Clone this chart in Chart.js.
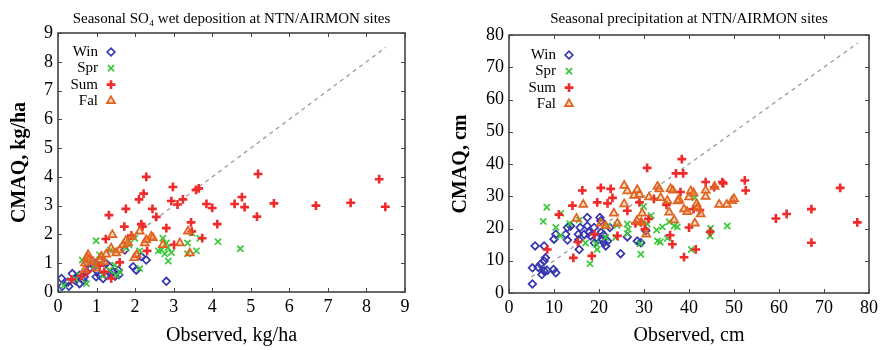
<!DOCTYPE html>
<html>
<head>
<meta charset="utf-8">
<script src="https://cdn.jsdelivr.net/npm/chart.js@4.4.1/dist/chart.umd.min.js"></script>
<style>
  html, body { margin: 0; padding: 0; background: #fff; }
  .wrap { position: absolute; top: 0; width: 441px; height: 350px; }
</style>
</head>
<body>
<div class="wrap" style="left:0"><canvas id="chartSO4"></canvas></div>
<div class="wrap" style="left:441px"><canvas id="chartPrecip"></canvas></div>
<script>
// seasons (legend order)
var seasons = ['Win', 'Spr', 'Sum', 'Fal'];

// SO4 wet deposition, kg/ha : [observed, CMAQ]
var so4Win = [[0.09,0.47],[0.11,0.20],[0.28,0.20],[0.26,0.35],[0.37,0.64],[0.48,0.47],[0.56,0.58],[0.65,0.41],[0.56,0.29],[0.74,0.70],[0.82,0.82],[0.91,0.94],[0.99,0.53],[1.08,0.58],[1.17,0.47],[1.25,0.58],[1.25,0.99],[1.34,0.88],[1.43,0.70],[1.56,0.76],[1.58,0.60],[1.73,1.46],[1.95,0.88],[2.03,0.76],[2.16,1.23],[2.29,1.11],[2.81,0.37],[0.78,0.99],[0.45,0.40],[0.68,0.52],[1.02,0.72],[1.35,0.65],[1.48,0.55],[0.96,1.00],[1.09,1.11]];
var so4Spr = [[0.99,1.78],[1.99,1.87],[2.72,1.87],[2.81,1.70],[2.85,1.54],[2.68,1.46],[2.60,1.43],[2.77,1.33],[2.94,1.37],[2.86,1.08],[3.36,1.70],[3.48,2.05],[3.68,1.87],[3.36,1.33],[3.59,1.43],[4.15,1.75],[4.73,1.50],[1.76,1.52],[1.84,1.64],[2.12,1.43],[2.12,0.82],[1.36,1.46],[0.63,1.11],[0.74,0.29],[1.08,1.29],[1.17,0.58],[1.51,0.58],[1.34,0.76],[0.15,0.23],[0.56,0.58],[0.95,0.94],[1.47,0.94],[0.45,0.45],[1.60,0.70]];
var so4Sum = [[2.29,4.00],[5.19,4.10],[8.33,3.92],[2.98,3.65],[3.58,3.55],[3.65,3.60],[2.22,3.42],[2.10,3.22],[3.24,3.22],[2.94,3.16],[3.10,3.04],[3.85,3.06],[4.00,2.92],[4.58,3.06],[4.77,3.30],[4.84,2.95],[5.60,3.08],[6.69,3.00],[7.59,3.10],[8.49,2.96],[5.16,2.62],[1.32,2.67],[1.76,2.89],[2.45,2.89],[2.55,2.61],[1.72,2.27],[2.16,2.36],[2.19,2.27],[2.81,2.22],[3.45,2.42],[4.13,2.36],[1.24,1.84],[3.74,1.87],[1.90,1.96],[3.47,2.10],[3.01,1.64],[0.75,0.70],[1.38,0.47],[1.60,1.03],[0.35,0.44],[1.08,0.91],[2.31,1.43],[0.60,0.55],[1.20,0.70]];
var so4Fal = [[1.41,1.99],[0.78,1.29],[0.75,1.19],[0.80,1.12],[0.91,1.05],[1.12,1.23],[1.25,1.31],[1.38,1.52],[1.69,1.64],[1.76,1.78],[1.82,1.70],[1.98,1.19],[2.04,1.29],[2.25,1.70],[2.29,1.81],[2.42,1.93],[2.46,1.88],[2.12,2.11],[1.91,1.93],[2.72,1.64],[3.16,1.70],[3.42,1.35],[3.37,2.11],[1.60,1.46],[1.51,1.35],[0.99,0.82],[0.69,0.76],[1.08,1.11],[1.20,1.05],[0.70,1.00]];
var so4OneToOne = [[0, 0], [8.5, 8.5]];

// precipitation, cm : [observed, CMAQ]
var prWin = [[5.2,2.8],[5.2,7.8],[5.8,14.6],[7.8,14.6],[7.0,8.9],[7.3,5.7],[7.8,6.8],[8.1,10.9],[7.8,9.9],[9.9,7.3],[10.4,6.3],[10.0,16.7],[10.4,18.2],[12.6,18.2],[13.0,20.3],[13.7,20.8],[13.0,16.4],[15.6,13.5],[15.4,18.2],[15.8,20.3],[17.4,23.4],[17.4,20.8],[17.8,18.8],[18.1,17.7],[18.9,20.3],[20.2,23.4],[20.4,22.4],[20.5,18.8],[20.7,16.7],[21.1,15.6],[21.5,14.6],[21.9,16.1],[22.4,20.3],[24.8,12.2],[26.3,17.4],[28.5,16.1],[29.3,15.6],[30.4,19.3],[16.7,18.2],[19.5,17.0],[6.5,8.0],[8.5,7.0],[15.5,16.5],[19.0,15.5],[21.0,18.0]];
var prSpr = [[8.4,26.6],[7.6,22.2],[10.4,20.3],[11.5,24.7],[11.4,17.7],[18.0,9.1],[19.6,13.5],[19.3,15.3],[21.5,17.2],[23.7,17.2],[26.3,21.4],[26.5,19.8],[29.3,12.0],[29.1,15.3],[29.9,26.8],[31.6,24.0],[30.7,21.4],[32.8,19.5],[33.0,16.1],[33.6,15.8],[34.1,20.5],[35.2,17.0],[35.6,22.1],[36.7,20.8],[37.4,20.5],[40.5,13.5],[41.3,29.5],[44.8,20.1],[44.7,17.7],[48.5,20.8],[15.6,22.6],[26.3,18.4],[21.9,20.8],[17.0,15.5],[24.0,21.0],[13.5,21.5]];
var prSum = [[16.3,31.8],[20.4,32.6],[22.6,32.3],[14.1,27.1],[19.6,28.1],[21.9,27.8],[23.0,29.5],[11.1,24.3],[8.5,13.5],[14.3,10.9],[18.4,11.5],[19.0,18.2],[24.1,17.7],[15.3,15.8],[26.3,25.5],[29.0,28.1],[28.1,21.6],[29.3,21.9],[30.2,19.8],[32.2,29.2],[35.0,27.3],[36.3,15.1],[35.8,17.9],[38.1,31.3],[38.9,11.1],[40.0,20.3],[41.5,13.5],[42.4,25.7],[43.7,34.4],[45.6,32.8],[47.4,34.4],[52.4,34.9],[52.6,31.8],[59.3,23.1],[61.7,24.5],[67.2,26.0],[67.2,15.6],[73.6,32.6],[77.4,21.9],[44.7,19.0],[30.7,38.8],[38.4,41.5],[37.1,37.1],[38.7,37.1],[47.6,34.0],[41.0,26.0],[31.0,23.0]];
var prFal = [[15.0,23.1],[16.5,27.4],[25.6,33.3],[23.3,24.7],[25.6,27.6],[26.3,31.6],[27.8,30.2],[29.0,30.5],[28.5,32.0],[29.6,24.7],[29.4,21.9],[30.5,18.2],[31.1,29.7],[33.0,33.0],[33.4,32.2],[33.7,29.5],[35.2,28.6],[35.9,32.3],[36.4,31.8],[35.6,25.0],[36.7,22.6],[37.8,28.9],[38.9,26.0],[39.6,25.2],[40.0,29.7],[40.4,31.6],[41.0,31.0],[41.7,27.6],[41.9,26.5],[42.6,24.5],[41.3,21.6],[43.7,29.9],[43.7,31.8],[45.7,33.0],[46.7,27.4],[48.4,27.4],[49.6,28.6],[50.0,29.2],[20.4,21.6],[21.5,20.8],[24.1,21.6],[28.4,22.4],[37.5,28.5]];
var prOneToOne = [[5, 5], [77.5, 77.5]];

var SERIF = "'Liberation Serif', 'DejaVu Serif', serif";

function pts(arr) {
  return arr.map(function(p) { return { x: p[0], y: p[1] }; });
}

function buildDatasets(win, spr, sum, fal, diag) {
  return [
    { label: seasons[0], data: pts(win), pointStyle: 'rectRot', pointRadius: 3.8, borderColor: '#3535b0', backgroundColor: 'rgba(255,255,255,0)', borderWidth: 1.7, order: 4 },
    { label: seasons[1], data: pts(spr), pointStyle: 'crossRot', pointRadius: 4.4, borderColor: '#3cc83c', backgroundColor: '#3cc83c', borderWidth: 1.7, order: 3 },
    { label: seasons[2], data: pts(sum), pointStyle: 'cross', pointRadius: 4.4, borderColor: '#f02a2a', backgroundColor: '#f02a2a', borderWidth: 2.6, order: 2 },
    { label: seasons[3], data: pts(fal), pointStyle: 'triangle', pointRadius: 4.6, borderColor: '#e0621c', backgroundColor: 'rgba(240,150,90,0.35)', borderWidth: 1.7, order: 1 },
    { type: 'line', label: '', data: pts(diag), showLine: true, pointRadius: 0, borderColor: '#9a9a9a', borderWidth: 1.3, borderDash: [4, 4], order: 5 }
  ];
}

// gnuplot-like box with inward ticks on all four sides
var framePlugin = {
  id: 'frame',
  afterDatasetsDraw: function(chart) {
    var a = chart.chartArea, ctx = chart.ctx;
    var xs = chart.scales.x, ys = chart.scales.y;
    ctx.save();
    ctx.strokeStyle = '#444';
    ctx.lineWidth = 1;
    ctx.beginPath();
    xs.ticks.forEach(function(t) {
      var px = Math.round(xs.getPixelForValue(t.value)) + 0.5;
      ctx.moveTo(px, a.bottom); ctx.lineTo(px, a.bottom - 4);
      ctx.moveTo(px, a.top); ctx.lineTo(px, a.top + 4);
    });
    ys.ticks.forEach(function(t) {
      var py = Math.round(ys.getPixelForValue(t.value)) + 0.5;
      ctx.moveTo(a.left, py); ctx.lineTo(a.left + 4, py);
      ctx.moveTo(a.right, py); ctx.lineTo(a.right - 4, py);
    });
    ctx.stroke();
    ctx.lineWidth = 1.6;
    ctx.strokeRect(a.left, a.top, a.right - a.left, a.bottom - a.top);
    ctx.restore();
  }
};

// key inside the plot: text right-aligned, symbol to its right
var keyPlugin = {
  id: 'key',
  afterDraw: function(chart, args, opts) {
    var ctx = chart.ctx;
    ctx.save();
    ctx.font = '15px ' + SERIF;
    ctx.textAlign = 'right';
    ctx.textBaseline = 'middle';
    chart.data.datasets.forEach(function(ds, i) {
      if (!ds.label) return;
      var y = opts.y + i * opts.gap;
      ctx.fillStyle = '#000';
      ctx.fillText(ds.label, opts.x, y);
      ctx.strokeStyle = ds.borderColor;
      ctx.fillStyle = ds.backgroundColor;
      ctx.lineWidth = ds.borderWidth;
      Chart.helpers.drawPoint(ctx, { pointStyle: ds.pointStyle, radius: ds.pointRadius, borderWidth: ds.borderWidth }, opts.x + 13, y);
    });
    ctx.restore();
  }
};

function makeChart(id, o) {
  return new Chart(document.getElementById(id), {
    type: 'scatter',
    data: { datasets: o.datasets },
    options: {
      responsive: true, maintainAspectRatio: false, animation: false,
      layout: { padding: { left: 0, right: o.padRight, top: 0, bottom: 0 } },
      plugins: {
        title: { display: true, text: o.title, fullSize: false, color: '#000', font: { family: SERIF, size: 15, weight: 'normal' }, padding: { top: 10, bottom: o.titleGap } },
        legend: { display: false },
        tooltip: { enabled: false },
        key: { x: o.keyX, y: o.keyY, gap: 16.3 }
      },
      scales: {
        x: {
          type: 'linear', min: 0, max: o.max,
          ticks: { stepSize: o.step, color: '#000', padding: 4, font: { family: SERIF, size: 18 } },
          grid: { display: false, drawTicks: false }, border: { display: false },
          title: { display: true, text: o.xTitle, color: '#000', font: { family: SERIF, size: 20 }, padding: { top: 0, bottom: 2 } },
          afterFit: function(s) { s.height = o.xH; }
        },
        y: {
          type: 'linear', min: 0, max: o.max,
          ticks: { stepSize: o.step, color: '#000', padding: 5, font: { family: SERIF, size: 18 } },
          grid: { display: false, drawTicks: false }, border: { display: false },
          title: { display: true, text: o.yTitle, color: '#000', font: { family: SERIF, size: 20, weight: 'bold' }, padding: { top: 8, bottom: 0 } },
          afterFit: function(s) { s.width = o.yW; }
        }
      }
    },
    plugins: [framePlugin, keyPlugin]
  });
}

makeChart('chartSO4', {
  datasets: buildDatasets(so4Win, so4Spr, so4Sum, so4Fal, so4OneToOne),
  title: 'Seasonal SO\u2084 wet deposition at NTN/AIRMON sites',
  xTitle: 'Observed, kg/ha', yTitle: 'CMAQ, kg/ha',
  max: 9, step: 1, padRight: 36, yW: 58, xH: 58, titleGap: 5,
  keyX: 98, keyY: 52
});

makeChart('chartPrecip', {
  datasets: buildDatasets(prWin, prSpr, prSum, prFal, prOneToOne),
  title: 'Seasonal precipitation at NTN/AIRMON sites',
  xTitle: 'Observed, cm', yTitle: 'CMAQ, cm',
  max: 80, step: 10, padRight: 13, yW: 68, xH: 57, titleGap: 7,
  keyX: 115, keyY: 55
});
</script>
</body>
</html>
